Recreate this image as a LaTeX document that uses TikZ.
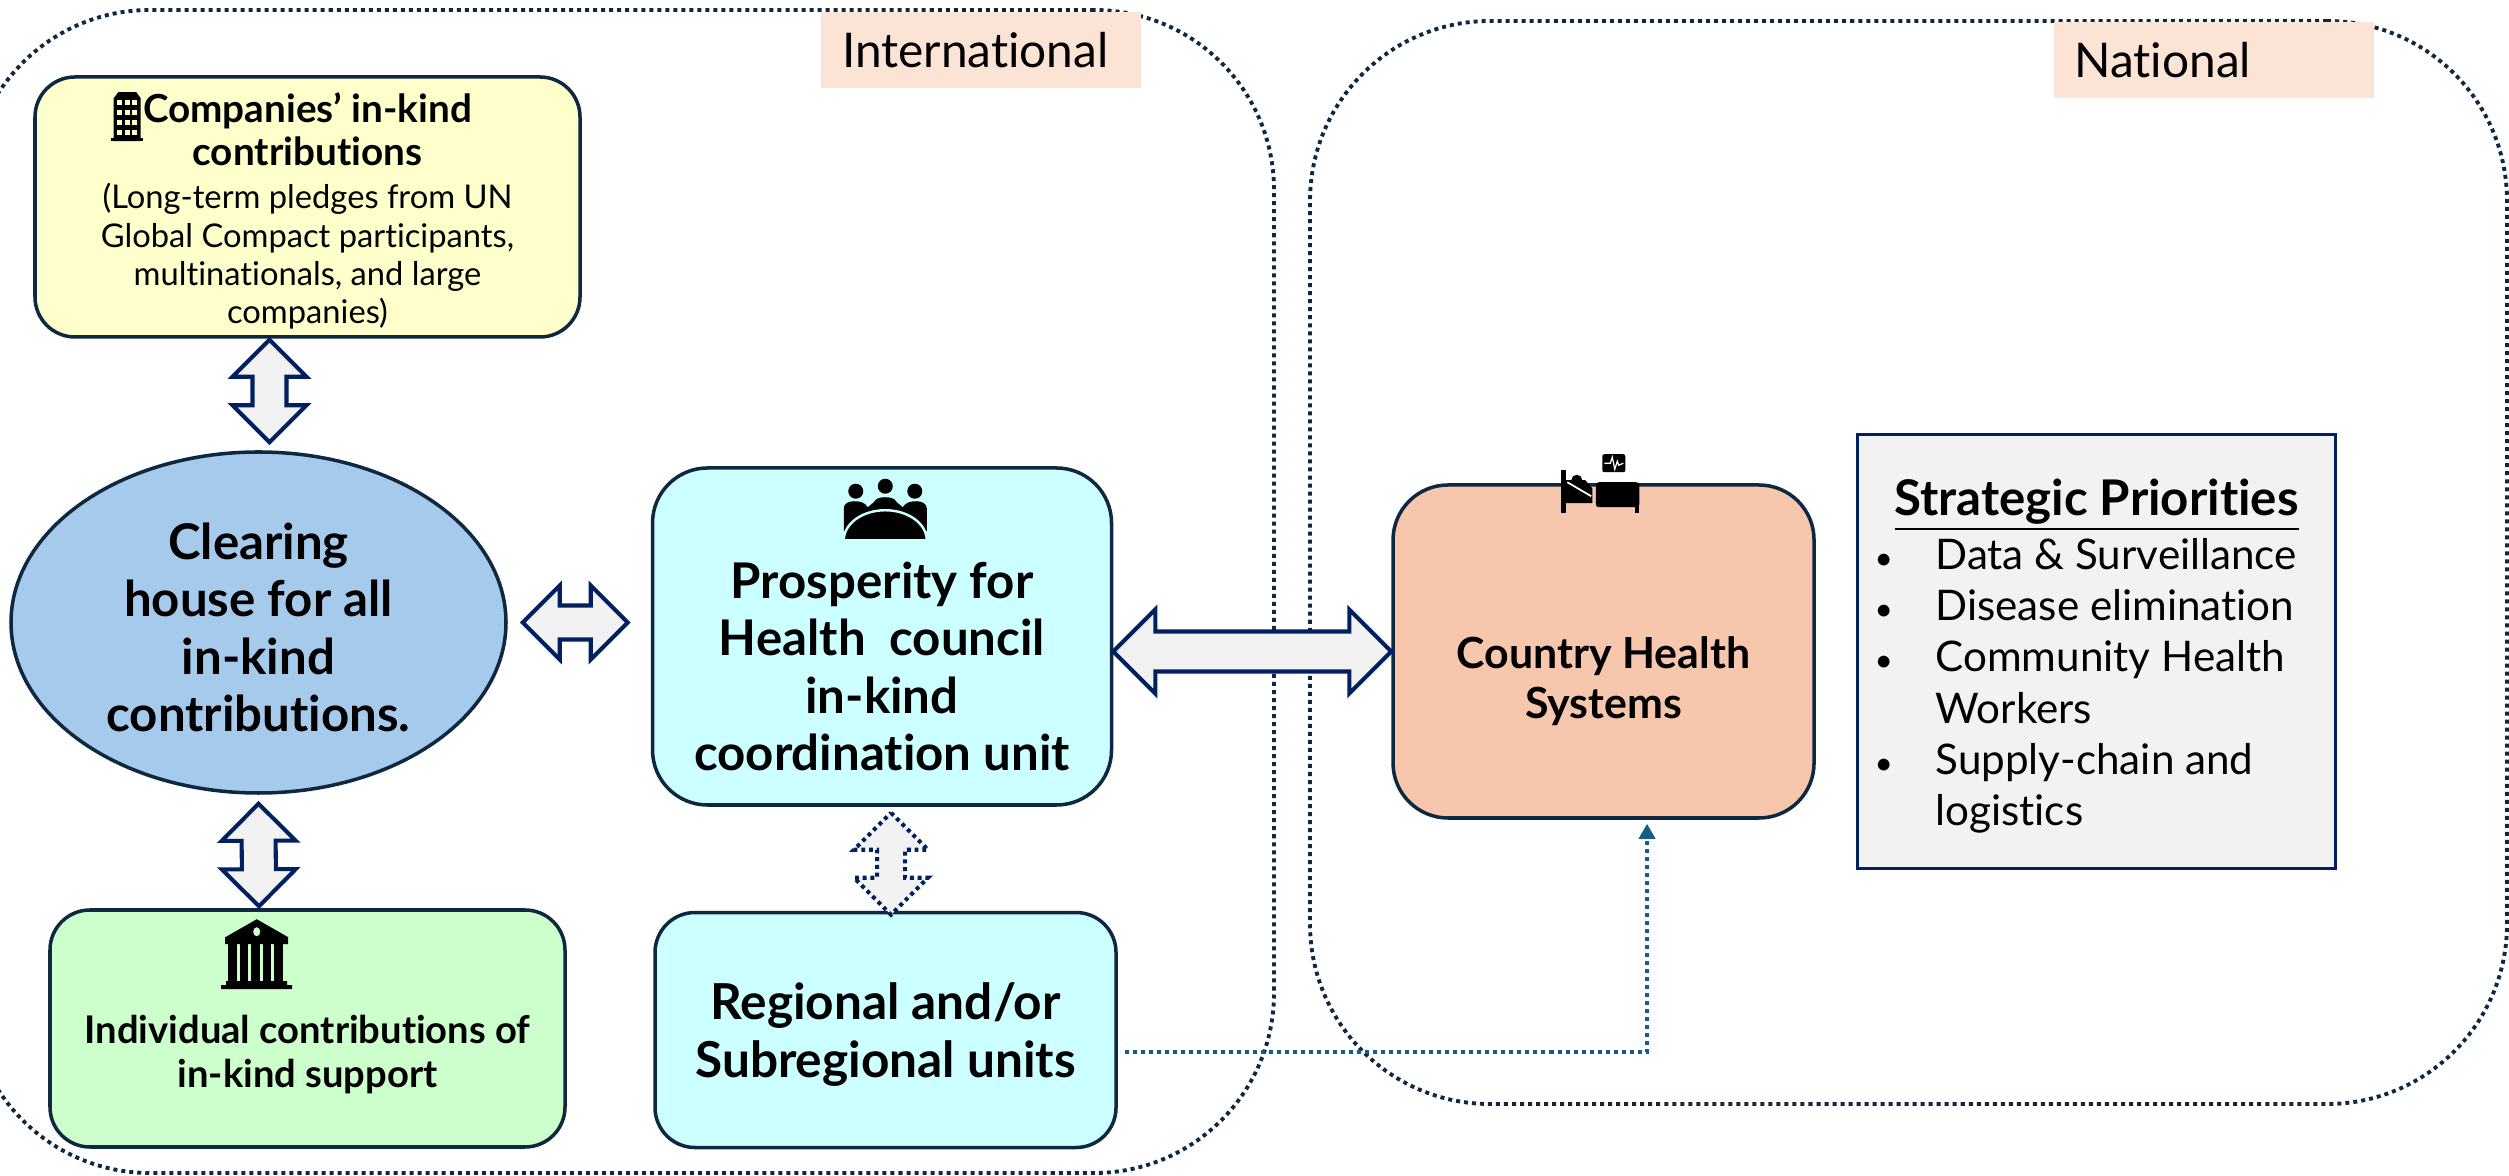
\documentclass[tikz,border=0pt]{standalone}
\usepackage{fontspec}
\setmainfont{Lato}[Ligatures=NoCommon]
\usepackage{tikz}
\usetikzlibrary{calc}
\usetikzlibrary{positioning, arrows.meta, shapes.geometric}

\definecolor{edgedark}{HTML}{0E2841}
\definecolor{navyline}{HTML}{002060}
\definecolor{tealline}{HTML}{156082}
\definecolor{paleyellow}{HTML}{FFFFCC}
\definecolor{palecyan}{HTML}{CCFFFF}
\definecolor{palegreen}{HTML}{CCFFCC}
\definecolor{ellipseblue}{HTML}{A6CAEC}
\definecolor{countrypeach}{HTML}{F6C6AD}
\definecolor{tagpeach}{HTML}{FBE3D6}
\definecolor{boxgrey}{HTML}{F2F2F2}

\newcommand{\fsize}[1]{\fontsize{#1}{1.17\dimexpr#1pt\relax}\selectfont}
\newcommand{\headline}[1]{{\fsize{11}\bfseries #1}}

\tikzset{
    region/.style={draw=edgedark, line width=1.1pt, dash pattern=on 1.14pt off 1.14pt, rounded corners=1.8cm},
    tag/.style={fill=tagpeach, minimum width=3.2cm, minimum height=0.76cm, inner sep=0pt},
    tagtext/.style={font=\fsize{13.6}, inner sep=0pt, anchor=west},
    card/.style={draw=edgedark, line width=1pt, rounded corners=0.4cm, align=center, inner sep=0pt},
    cardtext/.style={font=\fsize{14}\bfseries, align=center, inner sep=0pt},
    blockarrow/.style 2 args={draw=navyline, fill=boxgrey, line width=1.15pt, line join=miter, to path={
        -- ($($(\tikztostart)!#1!(\tikztotarget)$)!#1!90:(\tikztotarget)$)
        -- ($($(\tikztostart)!#1!(\tikztotarget)$)!#2!90:(\tikztotarget)$)
        -- ($($(\tikztotarget)!#1!(\tikztostart)$)!#2!-90:(\tikztostart)$)
        -- ($($(\tikztotarget)!#1!(\tikztostart)$)!#1!-90:(\tikztostart)$)
        -- (\tikztotarget)
        -- ($($(\tikztotarget)!#1!(\tikztostart)$)!#1!90:(\tikztostart)$)
        -- ($($(\tikztotarget)!#1!(\tikztostart)$)!#2!90:(\tikztostart)$)
        -- ($($(\tikztostart)!#1!(\tikztotarget)$)!#2!-90:(\tikztotarget)$)
        -- ($($(\tikztostart)!#1!(\tikztotarget)$)!#1!-90:(\tikztotarget)$)
        -- cycle}},
    pics/buildingicon/.style={code={
        \fill[black] (0,0) rectangle (0.32,0.035);
        \fill[black] (0.025,0) -- (0.025,0.43) -- (0.07,0.49) -- (0.25,0.49) -- (0.295,0.43) -- (0.295,0) -- cycle;
        \foreach \row in {0.06,0.16,0.26,0.36}
            \foreach \col in {0.06,0.135,0.21}
                \fill[paleyellow] (\col,\row) rectangle ++(0.05,0.055);
    }},
    pics/bankicon/.style={code={
        \fill[black] (0,0) -- (0,0.04) -- (0.05,0.04) -- (0.05,0.08) -- (0.66,0.08) -- (0.66,0.04) -- (0.71,0.04) -- (0.71,0) -- cycle;
        \fill[black] (0.04,0.45) -- (0.04,0.52) -- (0.355,0.70) -- (0.67,0.52) -- (0.67,0.45) -- cycle;
        \foreach \col in {0.07,0.185,0.30,0.415,0.53}
            \fill[black] (\col,0.07) rectangle ++(0.085,0.39);
        \fill[palegreen] (0.355,0.575) circle [x radius=0.035, y radius=0.045];
    }},
    pics/meetingicon/.style={code={
        \foreach \col/\hgt in {0.12/0.49, 0.415/0.54, 0.71/0.49}
            \fill[black] (\col,\hgt) circle [radius=0.075];
        \fill[black] (0,0.09) -- (0,0.32) to[out=90,in=180] (0.10,0.39) to[out=0,in=120] (0.24,0.33) -- (0.30,0.38) to[out=60,in=180] (0.415,0.43) to[out=0,in=120] (0.53,0.38) -- (0.59,0.33) to[out=60,in=180] (0.73,0.39) to[out=0,in=90] (0.83,0.32) -- (0.83,0.09) -- cycle;
        \fill[palecyan] (-0.01,0) rectangle (0.84,0.05);
        \fill[black, draw=palecyan, line width=0.7pt] (0,0) arc [start angle=180, end angle=0, x radius=0.415, y radius=0.30] -- cycle;
        \fill[palecyan] (-0.02,-0.03) rectangle (0.85,0);
    }},
    pics/bedicon/.style={code={
        \fill[black] (0,0) rectangle (0.045,0.43);
        \fill[black] (0.045,0.10) -- (0.31,0.10) -- (0.31,0.25) -- (0.24,0.33) -- (0.045,0.33) -- cycle;
        \fill[black] (0.155,0.33) circle [radius=0.055];
        \draw[white, line width=0.5pt] (0.06,0.31) -- (0.30,0.17);
        \fill[black, rounded corners=0.03cm] (0.345,0.06) rectangle (0.78,0.31);
        \fill[black] (0.74,0) rectangle (0.78,0.12);
        \fill[black, rounded corners=0.02cm] (0.41,0.41) rectangle (0.64,0.59);
        \draw[white, line width=0.35pt] (0.43,0.50) -- (0.49,0.50) -- (0.51,0.56) -- (0.535,0.44) -- (0.56,0.52) -- (0.575,0.48) -- (0.62,0.50);
    }},
}

\begin{document}
\begin{tikzpicture}
    \useasboundingbox (0,0) rectangle (25.09,11.75);
    % Dotted regions, the left one runs off the page
    \begin{scope}
        \clip (0,0) rectangle (25.09,11.75);
        \node (international) [region, minimum width=13.04cm, minimum height=11.63cm] at (6.22,5.835) {};
        \node (national) [region, minimum width=11.97cm, minimum height=10.83cm] at (19.085,6.125) {};
    \end{scope}
    \node (interTag) [tag] at (9.81,11.25) {};
    \node (interText) [tagtext] at ($(interTag.west)+(0.21,0)$) {International};
    \node (natTag) [tag] at (22.135,11.145) {};
    \node (natText) [tagtext] at ($(natTag.west)+(0.21,0)$) {National};

    % Cards on the international side
    \node (clearing) [ellipse, draw=edgedark, line width=1pt, fill=ellipseblue, minimum width=4.95cm, minimum height=3.41cm, inner sep=0pt] at (2.585,5.525) {};
    \node (clearingText) [cardtext] at ($(clearing.center)+(0,-0.05)$) {Clearing\\house for all\\in-kind\\contributions.};
    \node (companies) [card, fill=paleyellow, minimum width=5.45cm, minimum height=2.60cm] at (3.075,9.68) {};
    \node (companiesText) [cardtext, font=\fsize{9.3}] at ($(companies.center)+(0,-0.04)$) {\headline{Companies’ in-kind}\\[1.4pt]\headline{contributions}\\[1.4pt](Long-term pledges from UN\\Global Compact participants,\\multinationals, and large\\companies)};
    \node (council) [card, fill=palecyan, rounded corners=0.55cm, minimum width=4.59cm, minimum height=3.37cm, right=1.43cm of clearing, yshift=-0.14cm] {};
    \node (councilText) [cardtext] at ($(council.center)+(0,-0.30)$) {Prosperity for\\Health\ \ council\\in-kind\\coordination unit};
    \node (regional) [card, fill=palecyan, minimum width=4.61cm, minimum height=2.35cm, below=1.04cm of council, xshift=0.035cm] {};
    \node (regionalText) [cardtext, font=\fsize{14.1}\bfseries] at ($(regional.center)+(0,-0.05)$) {Regional and/or\\Subregional units};
    \node (individual) [card, fill=palegreen, minimum width=5.15cm, minimum height=2.37cm] at (3.075,1.465) {};
    \node (individualText) [cardtext, font=\fsize{10.85}\bfseries] at ($(individual.center)+(0,-0.26)$) {Individual contributions of\\in-kind support};

    % National side
    \node (country) [card, fill=countrypeach, rounded corners=0.55cm, minimum width=4.21cm, minimum height=3.33cm, right=2.78cm of council, yshift=-0.15cm] {};
    \node (countryText) [cardtext, font=\fsize{12.2}\bfseries] at ($(country.center)+(0,-0.30)$) {Country Health\\Systems};
    \node (priorities) [draw=navyline, line width=1pt, fill=boxgrey, minimum width=4.78cm, minimum height=4.34cm, right=0.40cm of country] {};
    \node (prioTitle) [font=\fsize{14}\bfseries, inner sep=0pt] at ($(priorities.north)+(0,-0.72)$) {\underline{Strategic Priorities}};
    \node (prioList) [anchor=north west, inner sep=0pt, font=\fsize{12}] at ($(priorities.north west)+(0.18,-1.00)$) {%
        \renewcommand{\arraystretch}{1.04}%
        \begin{tabular}{@{}p{0.61cm}@{}l@{}}
            {\fsize{9}•} & Data \& Surveillance\\
            {\fsize{9}•} & Disease elimination\\
            {\fsize{9}•} & Community Health\\
              & Workers\\
            {\fsize{9}•} & Supply-chain and\\
              & logistics
        \end{tabular}};

    % Icons
    \pic (buildingPic) at ($(companies.north west)+(0.78,-0.66)$) {buildingicon};
    \pic (bankPic) at ($(individual.north west)+(1.73,-0.81)$) {bankicon};
    \pic (meetingPic) at ($(council.north west)+(1.93,-0.74)$) {meetingicon};
    \pic (bedPic) at ($(country.north west)+(1.70,-0.30)$) {bedicon};

    % Block arrows
    \coordinate (compTip) at ($(companies.south)+(-0.38,-0.01)$);
    \coordinate (clearTop) at ($(clearing.north)+(0.11,0.08)$);
    \coordinate (clearBottom) at ($(clearing.south)+(0,-0.09)$);
    \coordinate (indivTip) at ($(individual.north)+(-0.485,0.02)$);
    \coordinate (clearEast) at ($(clearing.east)+(0.15,0)$);
    \coordinate (councilWest) at ($(council.west)+(-0.23,0.14)$);
    \coordinate (councilEast) at ($(council.east)+(0,-0.15)$);
    \coordinate (councilSouth) at ($(council.south)+(0.09,-0.06)$);
    \coordinate (regionalNorth) at ($(regional.north)+(0.055,-0.04)$);
    \draw [blockarrow={0.37cm}{0.17cm}] (compTip) to (clearTop);
    \draw [blockarrow={0.37cm}{0.17cm}] (clearBottom) to (indivTip);
    \draw [blockarrow={0.37cm}{0.17cm}] (clearEast) to (councilWest);
    \draw [blockarrow={0.42cm}{0.20cm}] (councilEast) to (country.west);
    \draw [blockarrow={0.37cm}{0.14cm}, dash pattern=on 1.1pt off 1.1pt] (councilSouth) to (regionalNorth);

    % Dotted link from the regional units up to the country box
    \coordinate (regOut) at ($(regional.east)+(0.07,-0.22)$);
    \coordinate (countryIn) at ($(country.south)+(0.435,-0.04)$);
    \draw [tealline, line width=1.1pt, dash pattern=on 1.14pt off 1.14pt, -{Triangle[length=0.15cm, width=0.16cm]}] (regOut) -| (countryIn);
\end{tikzpicture}
\end{document}
